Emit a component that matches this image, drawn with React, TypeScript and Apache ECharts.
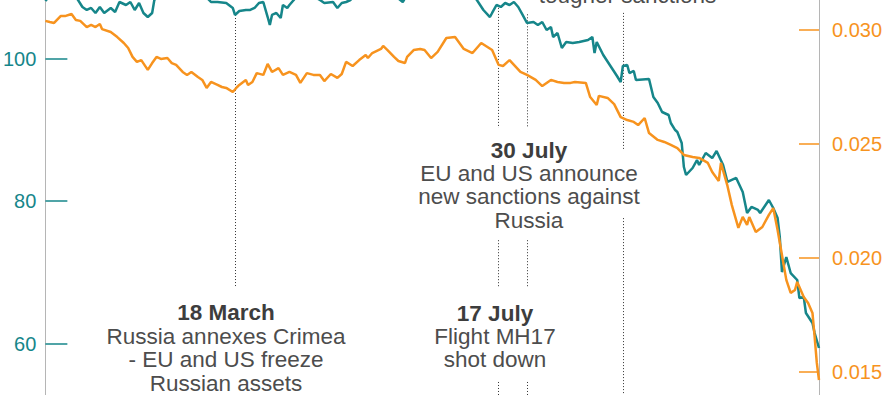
import React, { useEffect, useRef } from "react";
import * as echarts from "echarts";

const TEAL = "#16868a";
const ORANGE = "#f7931e";
const FONT = '"Liberation Sans", Arial, Helvetica, sans-serif';

// Rouble in US dollars (right axis)
const roubleDates = [
  "2013-12-21","2013-12-23","2013-12-25","2013-12-28","2013-12-30","2014-01-02","2014-01-04","2014-01-06",
  "2014-01-09","2014-01-11","2014-01-13","2014-01-15","2014-01-16","2014-01-20","2014-01-23","2014-01-26",
  "2014-01-28","2014-01-30","2014-02-01","2014-02-03","2014-02-06","2014-02-08","2014-02-10","2014-02-12",
  "2014-02-15","2014-02-17","2014-02-19","2014-02-22","2014-02-24","2014-02-26","2014-03-01","2014-03-03",
  "2014-03-05","2014-03-07","2014-03-10","2014-03-12","2014-03-14","2014-03-17","2014-03-19","2014-03-20",
  "2014-03-23","2014-03-24","2014-03-26","2014-03-28","2014-03-31","2014-04-02","2014-04-04","2014-04-07",
  "2014-04-09","2014-04-12","2014-04-15","2014-04-17","2014-04-20","2014-04-23","2014-04-26","2014-04-28",
  "2014-05-01","2014-05-04","2014-05-06","2014-05-08","2014-05-11","2014-05-14","2014-05-17","2014-05-18",
  "2014-05-20","2014-05-24","2014-05-25","2014-05-27","2014-05-30","2014-06-01","2014-06-04","2014-06-05",
  "2014-06-08","2014-06-11","2014-06-13","2014-06-16","2014-06-19","2014-06-23","2014-06-27","2014-07-01",
  "2014-07-05","2014-07-09","2014-07-14","2014-07-17","2014-07-19","2014-07-22","2014-07-27","2014-07-30",
  "2014-08-03","2014-08-06","2014-08-10","2014-08-13","2014-08-16","2014-08-19","2014-08-21","2014-08-26",
  "2014-08-28","2014-08-31","2014-09-01","2014-09-05","2014-09-08","2014-09-11","2014-09-14","2014-09-17",
  "2014-09-19","2014-09-22","2014-09-24","2014-09-28","2014-10-01","2014-10-04","2014-10-07","2014-10-10",
  "2014-10-14","2014-10-17","2014-10-21","2014-10-23","2014-10-26","2014-10-27","2014-10-30","2014-11-01",
  "2014-11-04","2014-11-06","2014-11-08","2014-11-09","2014-11-12","2014-11-15","2014-11-18","2014-11-20",
  "2014-11-22","2014-11-24","2014-11-26","2014-11-28","2014-11-30","2014-12-01","2014-12-04","2014-12-06",
  "2014-12-08","2014-12-09","2014-12-10","2014-12-11"
];
const roubleValues = [
  0.03040,0.03035,0.03031,0.03061,0.03061,0.03070,0.03044,0.03040,
  0.03013,0.03022,0.03013,0.03026,0.03004,0.02991,0.02969,0.02943,
  0.02921,0.02882,0.02860,0.02868,0.02825,0.02855,0.02882,0.02873,
  0.02877,0.02855,0.02847,0.02816,0.02803,0.02816,0.02794,0.02781,
  0.02746,0.02772,0.02759,0.02750,0.02746,0.02728,0.02750,0.02759,
  0.02781,0.02759,0.02772,0.02811,0.02803,0.02851,0.02816,0.02833,
  0.02803,0.02816,0.02803,0.02768,0.02811,0.02803,0.02803,0.02776,
  0.02807,0.02790,0.02807,0.02860,0.02842,0.02868,0.02890,0.02877,
  0.02899,0.02917,0.02930,0.02912,0.02882,0.02864,0.02855,0.02882,
  0.02912,0.02917,0.02912,0.02877,0.02904,0.02965,0.02969,0.02917,
  0.02899,0.02943,0.02912,0.02847,0.02842,0.02868,0.02816,0.02803,
  0.02781,0.02754,0.02781,0.02772,0.02768,0.02768,0.02772,0.02768,
  0.02706,0.02671,0.02711,0.02702,0.02675,0.02618,0.02605,0.02597,
  0.02583,0.02614,0.02548,0.02518,0.02509,0.02496,0.02482,0.02452,
  0.02443,0.02439,0.02417,0.02377,0.02338,0.02417,0.02316,0.02232,
  0.02132,0.02180,0.02145,0.02180,0.02114,0.02136,0.02189,0.02219,
  0.02123,0.02013,0.01904,0.01847,0.01860,0.01895,0.01829,0.01803,
  0.01759,0.01654,0.01540,0.01465
];

// Oil price, US dollars a barrel (left axis)
const oilDates = [
  "2013-12-21","2013-12-25","2013-12-30","2014-01-04","2014-01-05","2014-01-07","2014-01-09","2014-01-11",
  "2014-01-13","2014-01-15","2014-01-17","2014-01-20","2014-01-22","2014-01-24","2014-01-27","2014-01-29",
  "2014-01-31","2014-02-02","2014-02-04","2014-02-06","2014-02-08","2014-02-09","2014-02-14","2014-02-21",
  "2014-02-28","2014-03-04","2014-03-07","2014-03-10","2014-03-14","2014-03-17","2014-03-18","2014-03-20",
  "2014-03-23","2014-03-25","2014-03-27","2014-03-29","2014-03-31","2014-04-02","2014-04-03","2014-04-04",
  "2014-04-06","2014-04-08","2014-04-09","2014-04-11","2014-04-12","2014-04-14","2014-04-17","2014-04-21",
  "2014-04-26","2014-04-28","2014-05-02","2014-05-04","2014-05-06","2014-05-08","2014-05-10","2014-05-14",
  "2014-05-21","2014-05-28","2014-06-03","2014-06-06","2014-06-13","2014-06-20","2014-06-27","2014-07-03",
  "2014-07-07","2014-07-10","2014-07-13","2014-07-14","2014-07-16","2014-07-18","2014-07-20","2014-07-22",
  "2014-07-24","2014-07-26","2014-07-28","2014-07-30","2014-08-02","2014-08-04","2014-08-06","2014-08-08",
  "2014-08-10","2014-08-11","2014-08-13","2014-08-15","2014-08-17","2014-08-20","2014-08-23","2014-08-27",
  "2014-08-29","2014-08-30","2014-08-31","2014-09-03","2014-09-06","2014-09-09","2014-09-11","2014-09-12",
  "2014-09-14","2014-09-15","2014-09-17","2014-09-18","2014-09-24","2014-09-26","2014-09-28","2014-09-30",
  "2014-10-03","2014-10-04","2014-10-06","2014-10-07","2014-10-09","2014-10-10","2014-10-11","2014-10-14",
  "2014-10-16","2014-10-17","2014-10-20","2014-10-23","2014-10-25","2014-10-28","2014-10-30","2014-11-03",
  "2014-11-06","2014-11-08","2014-11-10","2014-11-13","2014-11-14","2014-11-18","2014-11-20","2014-11-22",
  "2014-11-23","2014-11-24","2014-11-26","2014-11-28","2014-12-01","2014-12-02","2014-12-04","2014-12-05",
  "2014-12-08","2014-12-09","2014-12-11"
];
const oilValues = [
  108.07,109.5,109.8,108.6,108.2,107.23,106.81,107.09,
  106.39,107.23,106.39,107.09,106.53,107.93,107.51,107.93,
  106.81,107.79,106.39,105.82,106.39,108.21,109.8,109.3,
  110.2,108.9,107.93,107.93,107.79,107.09,106.11,106.67,
  106.81,106.81,107.09,107.79,107.93,105.82,104.70,106.11,
  106.39,105.68,107.51,107.09,107.51,108.21,109.6,109.1,
  108.21,107.79,107.93,107.09,107.79,107.93,108.21,109.9,
  111.0,109.4,107.93,109.5,111.8,112.5,111.0,109.6,
  108.21,106.81,105.82,106.39,107.51,107.23,107.79,107.51,
  107.93,107.23,106.11,104.98,105.12,104.70,105.12,104.00,
  104.42,103.02,103.58,101.47,102.32,102.18,102.32,102.60,
  103.02,100.77,102.32,100.49,99.09,97.68,96.70,98.95,
  99.09,97.96,98.25,96.98,97.12,94.60,93.75,92.49,
  92.07,90.95,89.96,89.68,88.14,84.77,83.65,84.63,
  85.75,85.05,86.74,86.03,87.02,85.05,82.67,83.23,
  81.26,78.31,79.16,78.74,78.31,80.14,79.02,77.61,
  74.95,70.03,72.14,69.89,68.91,66.38,66.53,64.28,
  62.88,61.47,59.37
];

// Event markers: date and dotted segments (in left-axis units)
const eventDates = ["2014-03-18", "2014-07-17", "2014-07-30", "2014-09-12"];
const eventSegments: [number, number][][] = [
  [[106.1, 67.8]],
  [[107.1, 90.25], [74.5, 67.8], [54.6, 40]],
  [[106.2, 90.25], [74.5, 67.8], [54.6, 40]],
  [[106.4, 87.2], [77.6, 40]],
];

const leftTicks = { min: 40, max: 120, interval: 20 };
const rightTicks = { min: 0.01, max: 0.035, interval: 0.005 };

const ts = (d: string) => new Date(d + "T00:00:00").getTime();

const OFFSET = 100; // chart div is shifted up by this many pixels

export default function App() {
  const ref = useRef<HTMLDivElement>(null);
  useEffect(() => {
    if (!ref.current) return;
    const chart = echarts.init(ref.current, undefined, { renderer: "svg" });

    const markData: any[] = [];
    eventDates.forEach((d, i) => {
      eventSegments[i].forEach(([a, b]) => {
        markData.push([{ coord: [ts(d), a] }, { coord: [ts(d), b] }]);
      });
    });

    const txt = (text: string, x: number, y: number, bold = false) => ({
      type: "text",
      x,
      y: y + OFFSET,
      silent: true,
      style: {
        text,
        fill: bold ? "#3d3d3d" : "#4d4d4d",
        fontSize: 22.5,
        fontWeight: bold ? "bold" : "normal",
        fontFamily: FONT,
        align: "center",
        verticalAlign: "middle",
      },
    });

    chart.setOption({
      animation: false,
      backgroundColor: "#ffffff",
      grid: { left: 45, right: 71, top: 16, height: 570, containLabel: false },
      xAxis: {
        type: "time",
        min: ts("2013-12-21"),
        max: ts("2014-12-11"),
        show: false,
      },
      yAxis: [
        {
          type: "value",
          position: "left",
          min: leftTicks.min,
          max: leftTicks.max,
          interval: leftTicks.interval,
          axisLine: { show: true, lineStyle: { color: "#b5b5b5", width: 1 } },
          axisTick: { show: true, inside: true, length: 22, lineStyle: { color: TEAL, width: 1.5 } },
          axisLabel: {
            color: TEAL,
            fontSize: 20,
            fontFamily: FONT,
            margin: 9,
            showMinLabel: false,
            showMaxLabel: false,
          },
          splitLine: { show: false },
        },
        {
          type: "value",
          position: "right",
          min: rightTicks.min,
          max: rightTicks.max,
          interval: rightTicks.interval,
          axisLine: { show: true, lineStyle: { color: "#b5b5b5", width: 1 } },
          axisTick: { show: true, inside: true, length: 20, lineStyle: { color: ORANGE, width: 1.5 } },
          axisLabel: {
            color: ORANGE,
            fontSize: 20,
            fontFamily: FONT,
            margin: 13,
            showMinLabel: false,
            showMaxLabel: false,
            formatter: (v: number) => v.toFixed(3),
          },
          splitLine: { show: false },
        },
      ],
      series: [
        {
          name: "Oil",
          type: "line",
          yAxisIndex: 0,
          showSymbol: false,
          symbol: "none",
          data: oilDates.map((d, i) => [ts(d), oilValues[i]]),
          lineStyle: { color: TEAL, width: 2.5 },
          itemStyle: { color: TEAL },
          z: 3,
          markLine: {
            silent: true,
            symbol: ["none", "none"],
            label: { show: false },
            lineStyle: { color: "#333333", width: 1, type: [1, 2] },
            emphasis: { disabled: true },
            data: markData,
            z: 1,
          },
        },
        {
          name: "Rouble",
          type: "line",
          yAxisIndex: 1,
          showSymbol: false,
          symbol: "none",
          data: roubleDates.map((d, i) => [ts(d), roubleValues[i]]),
          lineStyle: { color: ORANGE, width: 2.5 },
          itemStyle: { color: ORANGE },
          z: 4,
        },
      ],
      graphic: [
        txt("tougher sanctions", 627.5, -5),
        txt("30 July", 529, 150, true),
        txt("EU and US announce", 529, 173),
        txt("new sanctions against", 529, 196.5),
        txt("Russia", 529, 220),
        txt("18 March", 226, 312, true),
        txt("Russia annexes Crimea", 226, 336),
        txt("- EU and US freeze", 226, 359.5),
        txt("Russian assets", 226, 383),
        txt("17 July", 495, 313, true),
        txt("Flight MH17", 495, 336),
        txt("shot down", 495, 359.5),
      ],
    });
    return () => chart.dispose();
  }, []);

  return (
    <div
      ref={ref}
      style={{ position: "absolute", left: 0, top: -OFFSET, width: 890, height: 600 }}
    />
  );
}
